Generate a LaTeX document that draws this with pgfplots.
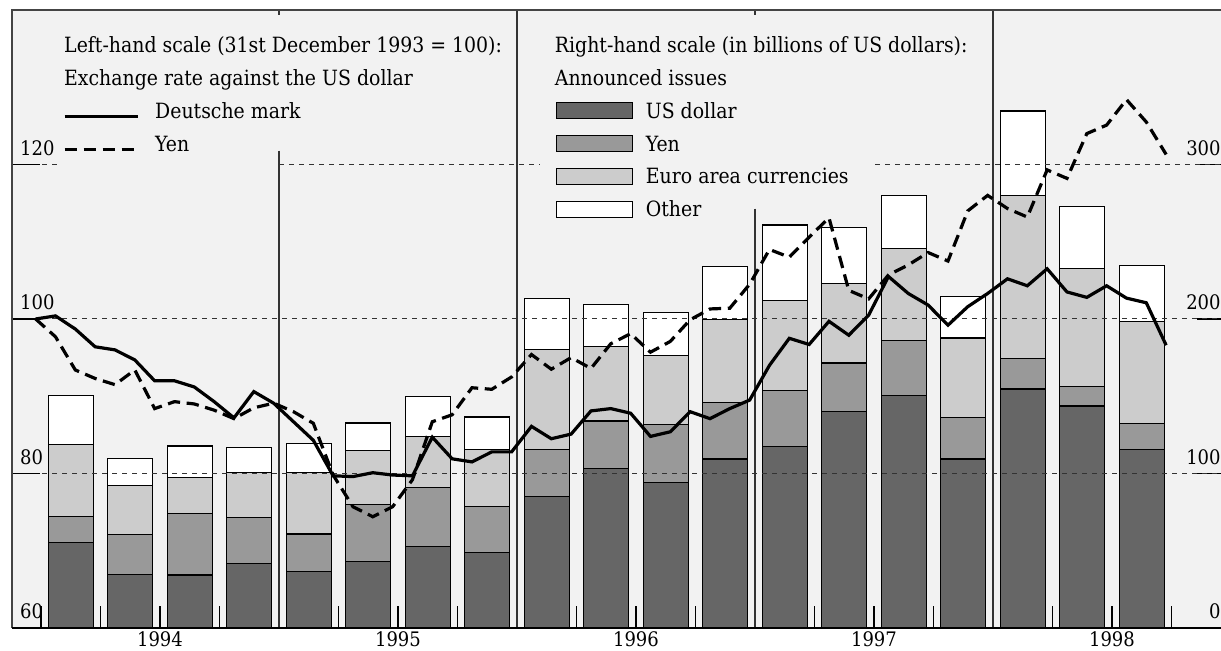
\documentclass[border=0pt]{standalone}
\usepackage{fontspec}
\setmainfont{DejaVu Serif Condensed}
\usepackage{pgfplots}
\usepackage{pgfplotstable}
\pgfplotsset{compat=1.18}
\definecolor{bg}{HTML}{F2F2F2}
\definecolor{cusd}{HTML}{666666}
\definecolor{cyen}{HTML}{999999}
\definecolor{ceur}{HTML}{CCCCCC}
\definecolor{gridc}{HTML}{333333}
\definecolor{framec}{HTML}{444444}
\newcommand{\ls}{\rule[-4.4pt]{0pt}{15.3pt}}

\pgfplotstableread{
x usd yen euro other
0.5 55.4 16.8 46.5 31.9
1.5 34.7 25.6 31.7 17.7
2.5 34.3 39.6 23.5 20.4
3.5 42.0 29.3 29.1 16.6
4.5 36.4 24.4 39.6 19.2
5.5 42.9 36.8 35.2 17.8
6.5 53.0 37.7 33.0 26.1
7.5 49.1 29.6 36.6 21.3
8.5 85.1 30.2 64.9 33.1
9.5 103.2 30.8 48.3 26.9
10.5 94.2 37.5 44.6 27.8
11.5 109.4 36.5 53.6 34.3
12.5 117.5 36.1 58.5 48.7
13.5 140.1 31.4 51.6 36.1
14.5 150.6 35.4 59.4 34.7
15.5 109.4 26.8 51.5 26.9
16.5 154.7 19.6 105.4 54.9
17.5 143.7 12.5 76.7 39.9
18.5 115.5 17.0 65.8 36.2
}\bars

\pgfplotstableread{
m dm yen
0 100.0 100.0
1 100.4 97.7
2 98.7 93.4
3 96.4 92.3
4 96.0 91.5
5 94.7 93.4
6 92.0 88.4
7 92.0 89.3
8 91.2 89.0
9 89.3 88.2
10 87.2 87.1
11 90.6 88.5
12 89.1 89.1
13 86.7 88.0
14 84.3 86.5
15 79.7 79.8
16 79.6 75.7
17 80.1 74.4
18 79.8 75.7
19 79.7 79.2
20 84.7 86.7
21 81.9 87.6
22 81.5 91.1
23 82.8 90.9
24 82.8 92.5
25 86.1 95.4
26 84.5 93.5
27 85.1 95.0
28 88.1 93.6
29 88.4 96.8
30 87.8 98.1
31 84.8 95.7
32 85.4 97.1
33 88.0 99.9
34 87.1 101.3
35 88.4 101.4
36 89.5 104.5
37 94.0 109.0
38 97.5 108.0
39 96.7 110.6
40 99.7 113.1
41 97.9 103.7
42 100.5 102.6
43 105.5 105.7
44 103.3 107.0
45 101.8 108.6
46 99.2 107.5
47 101.6 114.0
48 103.3 116.0
49 105.2 114.3
50 104.3 113.2
51 106.5 119.3
52 103.5 118.2
53 102.8 124.0
54 104.3 125.1
55 102.7 128.4
56 102.1 125.5
57 96.6 121.3
}\fx

\pgfplotsset{
  barleg/.style={legend image code/.code={\draw[##1,line width=0.6pt] (0pt,-0.3pt) rectangle (38pt,7.9pt);}},
  lineleg/.style={legend image code/.code={\draw[##1] (0pt,0.8pt) -- (36.5pt,0.8pt);}},
  common/.style={
    at={(0pt,0pt)}, anchor=south west,
    width=604.5pt, height=309pt, scale only axis,
    xmin=-0.4874, xmax=19.832,
    axis line style={draw=none},
    tick align=inside,
    tick label style={font=\fontsize{10pt}{12pt}\selectfont},
    /pgf/number format/assume math mode=true,
    clip=false,
  },
}

\begin{document}
\fontsize{10.5pt}{13pt}\selectfont
\begin{tikzpicture}
\path[use as bounding box] (-6pt,-11.5pt) rectangle (604.5pt,314pt);
\begin{axis}[common,
  ymin=0, ymax=400,
  axis background/.style={fill=bg},
  ybar stacked, bar width=22.5pt,
  xtick={2,6,10,14,18}, xticklabels={1994,1995,1996,1997,1998},
  major x tick style={draw=none},
  minor xtick={0,1,...,19},
  minor x tick style={black, line width=0.65pt},
  minor tick length=11pt,
  xtick pos=bottom,
  ytick={0,100,200,300}, ytick pos=right,
  major tick length=12pt,
  major y tick style={black, line width=0.75pt},
  yticklabel pos=right,
  yticklabel style={anchor=south east, inner sep=0pt, yshift=4.25pt},
  xticklabel style={anchor=north, inner sep=0pt, yshift=-1.5pt},
  legend style={draw=none, fill=none, inner sep=0pt, outer sep=0pt,
    row sep=0pt, column sep=4.5pt,
    cells={anchor=base west, inner sep=0pt},
    at={(axis description cs:0,1)}, anchor=north west,
    xshift=271.85pt, yshift=-8.2pt},
]
\draw[gridc, line width=0.5pt, dash pattern=on 2.5pt off 2.5pt] (axis cs:-0.4874,100) -- (axis cs:19.832,100);
\draw[gridc, line width=0.5pt, dash pattern=on 2.5pt off 2.5pt] (axis cs:-0.4874,200) -- (axis cs:19.832,200);
\draw[gridc, line width=0.5pt, dash pattern=on 2.5pt off 2.5pt] (axis cs:-0.4874,300) -- (axis cs:0.269,300);
\draw[gridc, line width=0.5pt, dash pattern=on 2.5pt off 2.5pt] (axis cs:4,300) -- (axis cs:8.387,300);
\draw[gridc, line width=0.5pt, dash pattern=on 2.5pt off 2.5pt] (axis cs:14.017,300) -- (axis cs:19.832,300);
\draw[gridc, line width=0.65pt] (axis cs:4,309) -- (axis cs:4,0);
\draw[gridc, line width=0.65pt] (axis cs:4,400) -- (axis cs:4,397);
\draw[gridc, line width=0.65pt] (axis cs:8,400) -- (axis cs:8,0);
\draw[gridc, line width=0.65pt] (axis cs:12,271.5) -- (axis cs:12,0);
\draw[gridc, line width=0.65pt] (axis cs:12,400) -- (axis cs:12,397);
\draw[gridc, line width=0.65pt] (axis cs:16,400) -- (axis cs:16,0);
\addlegendimage{empty legend}
\addlegendentry{\hspace*{-45.5pt}\ls Right-hand scale (in billions of US dollars):}
\addlegendimage{empty legend}
\addlegendentry{\hspace*{-45.5pt}\ls Announced issues}
\addplot[fill=cusd, draw=black, line width=0.6pt, barleg] table[x=x,y=usd]{\bars};
\addlegendentry{\ls US dollar}
\addplot[fill=cyen, draw=black, line width=0.6pt, barleg] table[x=x,y=yen]{\bars};
\addlegendentry{\ls Yen}
\addplot[fill=ceur, draw=black, line width=0.6pt, barleg] table[x=x,y=euro]{\bars};
\addlegendentry{\ls Euro area currencies}
\addplot[fill=white, draw=black, line width=0.6pt, barleg] table[x=x,y=other]{\bars};
\addlegendentry{\ls Other}
\end{axis}
\begin{axis}[common,
  ymin=60, ymax=140,
  xtick=\empty,
  ytick={60,80,100,120}, ytick pos=left,
  major tick length=14pt,
  ytick style={black, line width=0.75pt},
  yticklabel style={anchor=south west, inner sep=0pt, xshift=3.9pt, yshift=4.25pt},
  legend style={draw=none, fill=none, inner sep=0pt, outer sep=0pt,
    row sep=0pt, column sep=6pt,
    cells={anchor=base west, inner sep=0pt},
    at={(axis description cs:0,1)}, anchor=north west,
    xshift=25.5pt, yshift=-8.2pt},
]
\addlegendimage{empty legend}
\addlegendentry{\hspace*{-45.5pt}\ls Left-hand scale (31st December 1993 = 100):}
\addlegendimage{empty legend}
\addlegendentry{\hspace*{-45.5pt}\ls Exchange rate against the US dollar}
\addplot[black, line width=1.6pt, lineleg] table[x expr=\thisrow{m}/3-0.09, y=dm]{\fx};
\addlegendentry{\ls Deutsche mark}
\addplot[black, line width=1.6pt, dash pattern=on 6.2pt off 3.3pt, lineleg] table[x expr=\thisrow{m}/3-0.09, y=yen]{\fx};
\addlegendentry{\ls Yen}
\draw[framec, line width=1pt] (rel axis cs:0,0) -- (rel axis cs:0,1) -- (rel axis cs:1,1);
\draw[black, line width=1pt] (rel axis cs:0,0) -- (rel axis cs:1,0);
\end{axis}
\end{tikzpicture}
\end{document}
